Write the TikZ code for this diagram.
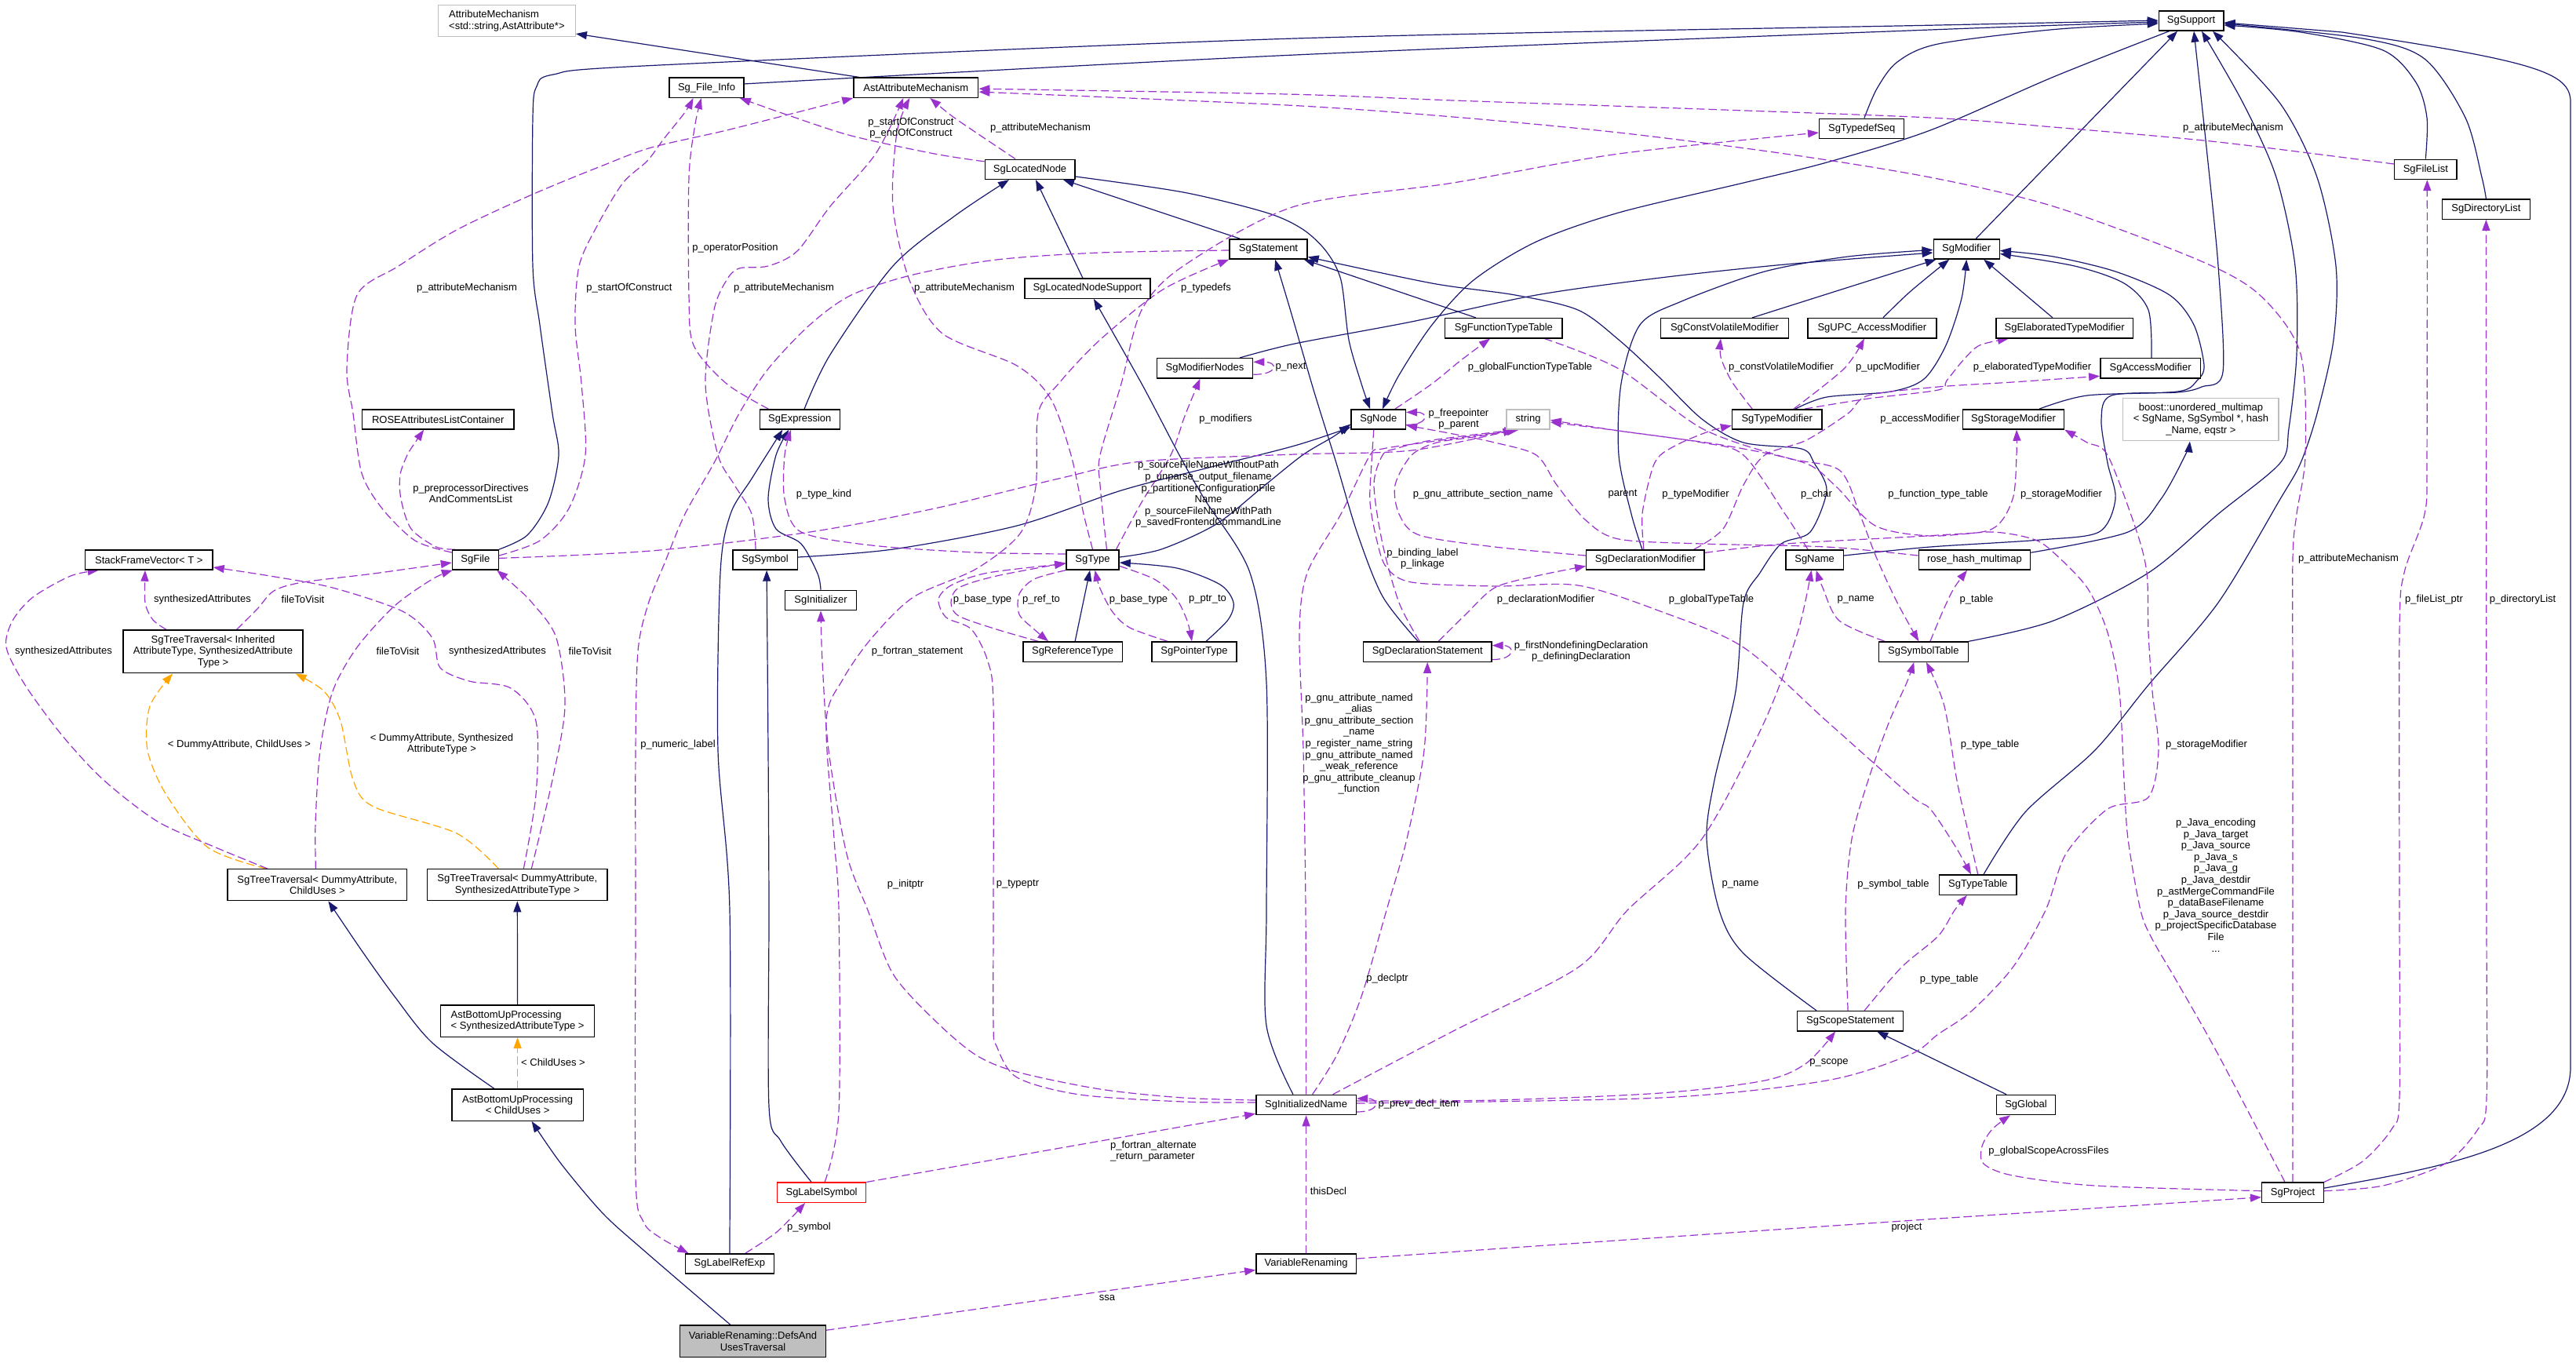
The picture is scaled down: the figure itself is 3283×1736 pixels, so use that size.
\documentclass[tikz,border=0pt]{standalone}
\usepackage{fontspec}
\setmainfont{Liberation Sans}
\usetikzlibrary{arrows.meta,backgrounds}
\definecolor{cnavy}{HTML}{191970}
\definecolor{cpurp}{HTML}{9A32CD}
\definecolor{corng}{HTML}{FFA500}
\definecolor{cgray}{HTML}{BFBFBF}
\newcommand\dxfont{\fontsize{6.5}{7.3}\selectfont}
\begin{document}
\begin{tikzpicture}[x=0.5pt,y=-0.5pt,
 box/.style={draw=black, line width=0.7pt, fill=white, inner sep=0pt, minimum height=12.6pt, font=\dxfont, align=center},
 gbox/.style={box, draw=cgray},
 bw/.style={minimum width=#1*0.5pt},
 bh/.style={minimum height=#1*0.5pt},
 inh/.style={draw=cnavy, line width=0.6pt, -{Triangle[length=7pt,width=5pt]}},
 dep/.style={draw=cpurp, line width=0.6pt, dash pattern=on 5.2pt off 2.4pt, -{Triangle[length=7pt,width=5pt]}},
 tmpl/.style={dep, draw=corng},
 lbl/.style={font=\dxfont, inner sep=0pt, align=center}]

\begin{pgfonlayer}{background}
\fill[white] (0,0) rectangle (3283,1736);
\end{pgfonlayer}
\useasboundingbox (0,0) rectangle (3283,1736);

% ---------------- nodes ----------------
\node[gbox, bw=174.7, bh=40.3, align=left] (attrmech) at (645.9,26.6) {AttributeMechanism\\<std::string,AstAttribute*>};
\node[box, bw=82.5] (support) at (2792.6,26.4) {SgSupport};
\node[box, bw=95.3] (fileinfo) at (900.5,111.7) {Sg\_File\_Info};
\node[box, bw=158.8] (astattr) at (1167.3,111.7) {AstAttributeMechanism};
\node[box, bw=108] (typedefseq) at (2372.7,163.8) {SgTypedefSeq};
\node[box, bw=114.8] (locnode) at (1312.6,215.8) {SgLocatedNode};
\node[box, bw=79.3] (filelist) at (3091.3,215.8) {SgFileList};
\node[box, bw=111.8] (dirlist) at (3168.4,266.6) {SgDirectoryList};
\node[box, bw=99] (stmt) at (1616.5,317.4) {SgStatement};
\node[box, bw=84] (modif) at (2506.2,317.4) {SgModifier};
\node[box, bw=159.8] (locsup) at (1385.9,367.6) {SgLocatedNodeSupport};
\node[box, bw=149.3] (ftt) at (1916.4,418.2) {SgFunctionTypeTable};
\node[box, bw=163.1] (cvm) at (2198,418.2) {SgConstVolatileModifier};
\node[box, bw=164.2] (upc) at (2385.9,418.2) {SgUPC\_AccessModifier};
\node[box, bw=174.3] (etm) at (2631.2,418.2) {SgElaboratedTypeModifier};
\node[box, bw=122.3] (modnodes) at (1535.5,469.3) {SgModifierNodes};
\node[box, bw=127.6] (accm) at (2740.6,469.3) {SgAccessModifier};
\node[box, bw=193.2] (rose) at (558.2,534.4) {ROSEAttributesListContainer};
\node[box, bw=102.2] (expr) at (1019.3,534.4) {SgExpression};
\node[box, bw=69.3] (sgnode) at (1756.8,534.4) {SgNode};
\node[gbox, bw=55.1] (str) at (1947.6,534.4) {string};
\node[box, bw=114.3] (typemod) at (2264.7,534.4) {SgTypeModifier};
\node[box, bw=129.1] (storm) at (2566,534.4) {SgStorageModifier};
\node[gbox, bw=198.4, bh=54.5] (boost) at (2804.9,534.5) {boost::unordered\_multimap\\< SgName, SgSymbol *, hash\\\_Name, eqstr >};
\node[box, bw=162.5] (sfv) at (189.8,713.4) {StackFrameVector< T >};
\node[box, bw=58.8] (sgfile) at (605.9,713.4) {SgFile};
\node[box, bw=82.6] (sgsym) at (975.1,713.4) {SgSymbol};
\node[box, bw=67.2] (sgtype) at (1392.5,713.4) {SgType};
\node[box, bw=150.3] (declmod) at (2096.9,713.4) {SgDeclarationModifier};
\node[box, bw=73.6] (sgname) at (2312.6,713.4) {SgName};
\node[box, bw=142.4] (rhm) at (2516.4,713.4) {rose\_hash\_multimap};
\node[box, bw=91.1] (sginit) at (1046,764.9) {SgInitializer};
\node[box, bw=228.7, bh=54.6] (ttinh) at (271.5,830.4) {SgTreeTraversal< Inherited\\AttributeType, SynthesizedAttribute\\Type >};
\node[box, bw=126.5] (refty) at (1367.1,830.6) {SgReferenceType};
\node[box, bw=108] (ptrty) at (1522,830.6) {SgPointerType};
\node[box, bw=163.6] (declst) at (1819.2,830.6) {SgDeclarationStatement};
\node[box, bw=113.9] (symtab) at (2451.3,830.6) {SgSymbolTable};
\node[box, bw=228.7, bh=39.9] (ttdc) at (404.4,1127.7) {SgTreeTraversal< DummyAttribute,\\ChildUses >};
\node[box, bw=229.3, bh=39.9] (ttdsat) at (659.3,1127.7) {SgTreeTraversal< DummyAttribute,\\SynthesizedAttributeType >};
\node[box, bw=98.7] (typetab) at (2520.8,1127.6) {SgTypeTable};
\node[box, bw=195.9, bh=40.4, align=left] (abupsat) at (659.6,1301.1) {AstBottomUpProcessing\\< SynthesizedAttributeType >};
\node[box, bw=135] (scp) at (2358.1,1301.2) {SgScopeStatement};
\node[box, bw=167.3, bh=40.4] (abupcu) at (659.6,1408) {AstBottomUpProcessing\\< ChildUses >};
\node[box, bw=127.6] (iname) at (1664.6,1408) {SgInitializedName};
\node[box, bw=75.1] (glob) at (2582,1408) {SgGlobal};
\node[box, draw=red, bw=113.2] (labsym) at (1047.1,1519.7) {SgLabelSymbol};
\node[box, bw=78.7] (proj) at (2922,1519.7) {SgProject};
\node[box, bw=112.7] (labref) at (929.9,1610.4) {SgLabelRefExp};
\node[box, bw=127.6] (vr) at (1664.6,1610.4) {VariableRenaming};
\node[box, fill=cgray, bw=185.8, bh=40.4] (mainn) at (959.5,1709.2) {VariableRenaming::DefsAnd\\UsesTraversal};

\begin{pgfonlayer}{background}
% ---------------- inheritance (navy) ----------------
\draw[inh] ([xshift=-36.2pt]astattr.north) -- ([yshift=-8.2pt]attrmech.east);
\draw[inh] plot[smooth] coordinates {([yshift=2.4pt]fileinfo.east) (1650,70) (2470,37.6) ([yshift=-0.8pt]support.west)};
\draw[inh] plot[smooth] coordinates {(sgfile.north east) (672,682) (699,640) (712,580) (704,527) (688,414) (679,339) (679,150) (684,110) (705,95) (830,83.5) (1650,49) (2470,32) ([yshift=0.2pt]support.west)};
\draw[inh] plot[smooth] coordinates {([xshift=1.6pt]typedefseq.north) (2392,113) (2418,79) (2470,56) (2617,37.6) ([yshift=-1.8pt]support.west)};
\draw[inh] plot[smooth] coordinates {([xshift=-14pt]support.south) (2617,98) (2460,166) (2328,207) (2222,233) (2063,271) (1958,308) (1878,357) (1825,414) (1783,478) ([xshift=2.6pt]sgnode.north)};
\draw[inh] plot[smooth] coordinates {([yshift=-4.6pt]locnode.east) (1508,245) (1614,271) (1660,292) (1690,320) (1709,357) (1719,433) (1735,489) ([xshift=-5.4pt]sgnode.north)};
\draw[inh] plot[smooth] coordinates {([yshift=1.7pt]sgsym.east) (1138,700) (1296,670) (1429,625) (1540,596) (1650,568) ([yshift=-5pt]sgnode.west)};
\draw[inh] plot[smooth] coordinates {([yshift=1.7pt]sgtype.east) (1480,700) (1550,668) (1610,620) (1660,580) (1700,556) ([yshift=-3pt]sgnode.west)};
\draw[inh] ([xshift=-18.2pt]stmt.north) -- ([xshift=21.2pt]locnode.south);
\draw[inh] plot[smooth] coordinates {([xshift=2.9pt]expr.north) (1058,452) (1138,339) (1217,275) ([xshift=-13.3pt]locnode.south)};
\draw[inh] ([xshift=-3pt]locsup.north) -- ([xshift=3.7pt]locnode.south);
\draw[inh] plot[smooth] coordinates {([xshift=-6pt]declst.north) (1762,760) (1730,680) (1703,590) (1675,500) (1650,414) (1640,380) ([xshift=4.3pt]stmt.south)};
\draw[inh] ([xshift=-17.7pt]ftt.north) -- ([xshift=-2.5pt]stmt.south east);
\draw[inh] plot[smooth] coordinates {([xshift=-21.5pt]scp.north) (2222,1215) (2191,1160) (2175,1069) (2185,994) (2212,881) (2222,768) (2243,730) (2270,693) (2307,678) (2328,625) (2312,590) (2296,572) (2222,564) (2169,534) (2116,482) (2063,433) (2011,395) (1931,376) (1825,361) ([yshift=-5pt]stmt.east)};
\draw[inh] ([xshift=-12.5pt]glob.north) -- ([xshift=17pt]scp.south);
\draw[inh] ([xshift=6pt]modif.north) -- ([xshift=-8.8pt]support.south);
\draw[inh] plot[smooth] coordinates {([yshift=2.7pt]sgname.east) (2460,697) (2600,688) (2675,678) (2696,636) (2686,590) (2678,535) (2691,504) (2775,500) (2806,493) (2833,474) (2827,339) (2812,188) ([xshift=1.7pt]support.south)};
\draw[inh] plot[smooth] coordinates {([yshift=4.6pt]rhm.east) (2712,678) (2754,636) (2785,580) ([xshift=-7pt]boost.south)};
\draw[inh] plot[smooth] coordinates {(symtab.north east) (2617,791) (2738,730) (2827,655) (2906,590) (2917,546) (2927,451) (2925,339) (2901,226) (2859,132) ([xshift=6.7pt]support.south)};
\draw[inh] plot[smooth] coordinates {([xshift=3.6pt]typetab.north) (2581,1035) (2670,956) (2738,873) (2827,768) (2906,636) (2932,590) (2953,527) (2974,433) (2977,339) (2953,226) (2906,132) ([xshift=13.7pt]support.south)};
\draw[inh] plot[smooth] coordinates {(filelist.north) (3093,150) (3079,105) (3037,64) (2932,41) ([yshift=-2.8pt]support.east)};
\draw[inh] plot[smooth] coordinates {(dirlist.north) (3163,226) (3142,150) (3090,75) (3011,49) ([yshift=-1.8pt]support.east)};
\draw[inh] ([yshift=2.8pt]proj.east) .. controls (3110,1488) and (3276,1460) .. (3276,1360) -- (3276,130) .. controls (3276,92) and (3230,78) .. (2985,41) -- ([yshift=-1.2pt]support.east);
\draw[inh] plot[smooth] coordinates {([xshift=22.2pt]modnodes.north) (1650,438) (1799,410) (1958,376) (2116,354) (2275,337) ([yshift=-2.3pt]modif.west)};
\draw[inh] ([xshift=17.5pt]cvm.north) -- ([xshift=2pt]modif.south west);
\draw[inh] plot[smooth] coordinates {([xshift=7pt]upc.north) (2434,372) ([xshift=-11pt]modif.south)};
\draw[inh] plot[smooth] coordinates {([xshift=11.7pt]typemod.north) (2328,506) (2410,499) (2452,483) (2480,440) (2500,380) (modif.south)};
\draw[inh] ([xshift=-7.6pt]etm.north) -- ([xshift=11pt]modif.south);
\draw[inh] plot[smooth] coordinates {([xshift=0.7pt]accm.north) (2738,395) (2707,361) (2644,339) ([yshift=-3pt]modif.east)};
\draw[inh] plot[smooth] coordinates {([xshift=16.5pt]storm.north) (2660,504) (2775,499) (2800,485) (2809,466) (2796,414) (2765,376) (2696,346) (2617,327) ([yshift=-1pt]modif.east)};
\draw[inh] plot[smooth] coordinates {([xshift=-2pt]declmod.north) (2079,655) (2063,580) (2066,489) (2090,414) (2143,384) (2249,346) (2355,327) ([yshift=-0.5pt]modif.west)};
\draw[inh] ([xshift=1.5pt]refty.north) -- ([xshift=-1.7pt]sgtype.south);
\draw[inh] plot[smooth] coordinates {([xshift=7.5pt]ptrty.north) (1565,790) (1572,768) (1555,745) (1500,724) ([yshift=-1.8pt]sgtype.east)};
\draw[inh] plot[smooth] coordinates {(sginit.north) (1042,731) (1021,693) (989,674) (979,636) (989,580) ([xshift=-7pt]expr.south)};
\draw[inh] plot[smooth] coordinates {(labref.north) (930,1160) (915,956) (918,730) (931,655) (958,610) ([xshift=-11pt]expr.south)};
\draw[inh] plot[smooth] coordinates {([xshift=-6.5pt]labsym.north) (995,1454) (980,1410) (980,1160) (979,956) ([xshift=1pt]sgsym.south)};
\draw[inh] plot[smooth] coordinates {([xshift=-8.3pt]iname.north) (1614,1307) (1614,1160) (1614,870) (1593,730) (1535,636) (1503,580) (1455,489) ([xshift=4pt]locsup.south)};
\draw[inh] plot[smooth] coordinates {([xshift=-15pt]abupcu.north) (551,1329) (503,1270) (460,1210) ([xshift=7pt]ttdc.south)};
\draw[inh] (abupsat.north) -- (ttdsat.south);
\draw[inh] plot[smooth] coordinates {([xshift=-14.3pt]mainn.north) (820,1593) (768,1546) (715,1483) ([xshift=9pt]abupcu.south)};

% ---------------- template (orange) ----------------
\draw[tmpl] plot[smooth] coordinates {([xshift=-32.7pt]ttdc.north) (265,1080) (212,1013) (188,956) (191,900) ([xshift=-25.7pt]ttinh.south)};
\draw[tmpl] plot[smooth] coordinates {([xshift=-12pt]ttdsat.north) (582,1062) (476,1028) (450,994) (434,919) (413,881) ([xshift=-5pt]ttinh.south east)};
\draw[tmpl] (abupcu.north) -- (abupsat.south);

% ---------------- usage (purple) ----------------
\draw[dep] plot[smooth] coordinates {([yshift=4.7pt]sgfile.west) (529,689) (487,648) (461,603) (450,527) (442,470) (455,376) (508,339) (582,293) (678,248) (768,211) (830,188) (926,166) (1032,139) (astattr.south west)};
\draw[dep] plot[smooth] coordinates {([xshift=2pt]sgfile.north west) (556,697) (524,674) (511,636) (510,605) (519,580) (529,564) ([xshift=-9pt]rose.south)};
\draw[dep] plot[smooth] coordinates {([yshift=2.7pt]sgfile.east) (688,689) (725,648) (746,580) (741,489) (733,414) (738,339) (762,286) (794,233) (825,205) (846,177) (873,143) ([xshift=-8.5pt]fileinfo.south)};
\draw[dep] plot[smooth] coordinates {([xshift=-20pt]expr.north) (926,489) (884,440) (878,376) (878,226) (886,158) ([xshift=-3.3pt]fileinfo.south)};
\draw[dep] plot[smooth] coordinates {([yshift=5pt]locnode.west) (1191,196) (1085,173) (1005,147) ([xshift=-3pt]fileinfo.south east)};
\draw[dep] plot[smooth] coordinates {([xshift=-9.3pt]locnode.north) (1244,169) (1212,147) ([xshift=9pt]astattr.south)};
\draw[dep] plot[smooth] coordinates {([xshift=-6pt]sgsym.north) (958,655) (936,618) (915,580) (899,489) (910,395) (926,357) (942,342) (979,339) (1016,320) (1058,263) (1116,196) ([xshift=-8pt]astattr.south)};
\draw[dep] plot[smooth] coordinates {(sgtype.north) (1381,655) (1365,580) (1339,508) (1296,466) (1201,425) (1159,357) (1138,263) (1143,169) ([xshift=-4pt]astattr.south)};
\draw[dep] plot[smooth] coordinates {([yshift=3.4pt]filelist.west) (2827,181) (2617,162) (2460,150) (2169,139) (1852,128) (1640,120) ([yshift=-0.7pt]astattr.east)};
\draw[dep] plot[smooth] coordinates {(proj.north) (2922,1300) (2922,900) (2922,712) (2927,655) (2938,580) (2932,451) (2880,376) (2801,331) (2617,263) (2460,226) (2275,196) (2063,169) (1852,149) (1640,134) ([yshift=-2.7pt]astattr.east)};
\draw[dep] plot[smooth] coordinates {([xshift=9pt]sgtype.north) (1402,618) (1402,580) (1429,489) (1455,395) (1508,339) (1650,263) (1852,233) (2063,196) ([yshift=-2.6pt]typedefseq.west)};
\draw[dep] plot[smooth] coordinates {([xshift=2pt]labsym.north) (1069,1417) (1069,1160) (1063,1069) (1053,919) (1074,866) (1111,813) (1164,761) (1244,725) (1300,680) (1320,620) (1323,527) (1349,489) (1402,433) (1482,369) (stmt.south west)};
\draw[dep] plot[smooth] coordinates {([yshift=-0.8pt]stmt.west) (1402,322) (1270,331) (1164,350) (1085,376) (1032,414) (979,470) (942,527) (910,590) (873,655) (846,720) (826,770) (813,830) (810,956) (810,1170) (810,1500) (820,1557) (841,1577) ([xshift=2.3pt]labref.north west)};
\draw[dep] plot[smooth] coordinates {([yshift=3.7pt]sgtype.west) (1243,704) (1111,695) (1021,678) (1000,636) (1000,580) ([xshift=-5.6pt]expr.south)};
\draw[dep] plot[smooth] coordinates {([yshift=1pt]sgfile.east) (830,702) (1032,678) (1191,648) (1349,610) (1455,588) (1650,579) (1799,574) ([xshift=-9pt]str.south)};
\draw[dep] ([yshift=-4pt]modnodes.east) .. controls +(32,0) and +(32,0) .. ([yshift=4pt]modnodes.east);
\draw[dep] plot[smooth] coordinates {([xshift=15pt]sgtype.north) (1455,640) (1492,580) (1510,530) ([xshift=-3pt]modnodes.south)};
\draw[dep] ([yshift=-3.5pt]sgnode.east) .. controls +(29,0) and +(29,0) .. ([yshift=4.5pt]sgnode.east);
\draw[dep] plot[smooth] coordinates {([xshift=10.6pt]sgnode.north) (1825,489) (1862,459) ([xshift=-8.7pt]ftt.south)};
\draw[dep] plot[smooth] coordinates {([xshift=-3pt]sgnode.south) (1748,590) (1746,640) (1755,690) (1767,723) (1799,742) (1905,747) (2011,746) (2116,779) (2222,825) (2328,919) (2434,1013) (2460,1031) (2491,1077) ([xshift=-4.4pt]typetab.north)};
\draw[dep] plot[smooth] coordinates {([xshift=-5pt]declst.north) (1783,768) (1762,693) (1751,618) (1762,580) (1778,572) (1825,561) ([xshift=-8pt]str.south)};
\draw[dep] plot[smooth] coordinates {([yshift=2.7pt]declmod.west) (1905,697) (1809,682) (1783,655) (1778,618) (1799,580) (1831,564) (1878,557) ([xshift=-7pt]str.south)};
\draw[dep] plot[smooth] coordinates {([xshift=-4.3pt]sgname.north) (2275,655) (2222,580) (2169,564) (2063,549) ([yshift=-1.8pt]str.east)};
\draw[dep] plot[smooth] coordinates {([yshift=2.7pt]rhm.west) (2328,697) (2169,693) (2063,687) (2021,663) (1984,618) (1958,580) (1905,564) (1852,553) ([yshift=-3.8pt]sgnode.east)};
\draw[dep] plot[smooth] coordinates {([xshift=26pt]ftt.south) (2063,470) (2169,546) (2275,583) (2344,599) (2370,655) (2392,712) (2418,768) ([xshift=-3pt]symtab.north)};
\draw[dep] plot[smooth] coordinates {(typetab.north) (2495,1000) (2478,900) ([xshift=1.8pt]symtab.south)};
\draw[dep] plot[smooth] coordinates {([xshift=-1.5pt]scp.north) (2352,1160) (2360,1069) (2381,994) (2408,919) (2430,870) ([xshift=-6pt]symtab.south)};
\draw[dep] plot[smooth] coordinates {([xshift=9pt]scp.north) (2423,1233) (2470,1193) (2491,1160) ([xshift=-7pt]typetab.south)};
\draw[dep] plot[smooth] coordinates {([yshift=2.5pt]iname.east) (1905,1402) (2116,1393) (2249,1377) (2302,1355) ([xshift=-9.5pt]scp.south)};
\draw[dep] plot[smooth] coordinates {([yshift=1pt]iname.east) (2116,1399) (2328,1377) (2434,1344) (2470,1318) (2512,1289) (2565,1233) (2607,1160) (2633,1088) (2686,1031) (2738,1016) (2751,956) (2743,881) (2738,806) (2736,730) (2722,674) (2686,580) (2660,564) (storm.south east)};
\draw[dep] plot[smooth] coordinates {([yshift=4.5pt]declmod.east) (2275,693) (2470,682) (2539,674) (2565,636) (2570,580) ([xshift=2pt]storm.south)};
\draw[dep] plot[smooth] coordinates {([xshift=31pt]declmod.north) (2196,674) (2222,618) (2249,580) (2302,561) (2355,527) (2381,504) (2470,493) (2565,487) ([yshift=-5pt]accm.west)};
\draw[dep] plot[smooth] coordinates {([xshift=17.6pt]typemod.north) (2381,508) (2470,497) (2481,485) (2502,459) (2523,440) ([xshift=-35.6pt]etm.south)};
\draw[dep] plot[smooth] coordinates {([xshift=-15.8pt]typemod.north) (2207,486) (2193,455) ([xshift=-2.5pt]cvm.south)};
\draw[dep] plot[smooth] coordinates {([xshift=10.6pt]typemod.north) (2350,470) ([xshift=-5pt]upc.south)};
\draw[dep] plot[smooth] coordinates {([xshift=-1pt]declmod.north) (2093,655) (2105,600) (2116,580) (2143,564) (2180,549) ([yshift=-4pt]typemod.west)};
\draw[dep] plot[smooth] coordinates {(iname.north) (1664,1160) (1661,956) (1656,806) (1666,730) (1709,655) (1746,580) (1762,572) (1815,564) ([xshift=-6pt]str.south)};
\draw[dep] plot[smooth] coordinates {([xshift=4pt]iname.north) (1704,1344) (1735,1270) (1767,1160) (1793,1069) (1815,956) (declst.south)};
\draw[dep] plot[smooth] coordinates {([xshift=17pt]iname.north) (1852,1314) (2011,1233) (2074,1160) (2169,1069) (2249,919) (2291,806) ([xshift=-2pt]sgname.south)};
\draw[dep] ([yshift=-4.5pt]iname.east) .. controls +(30,0) and +(30,0) .. ([yshift=4pt]iname.east);
\draw[dep] (labsym.north east) -- ([yshift=1pt]iname.south west);
\draw[dep] plot[smooth] coordinates {([xshift=10pt]labref.north) (990,1570) ([xshift=-10.5pt]labsym.south)};
\draw[dep] ([yshift=7pt]mainn.east) -- ([yshift=-4pt]vr.west);
\draw[dep] (vr.north) -- (iname.south);
\draw[dep] plot[smooth] coordinates {([yshift=3.2pt]vr.east) (2000,1585) (2470,1553) ([yshift=-3pt]proj.west)};
\draw[dep] plot[smooth] coordinates {([yshift=1pt]proj.west) (2670,1511) (2565,1498) (2528,1483) (2526,1461) (2539,1439) ([xshift=-10pt]glob.south)};
\draw[dep] plot[smooth] coordinates {(proj.north east) (3011,1480) (3048,1439) (3058,1399) (3058,1160) (3058,806) (3064,730) (3090,655) (3093,580) ([xshift=1pt]filelist.south)};
\draw[dep] plot[smooth] coordinates {([yshift=1pt]proj.east) (3037,1511) (3116,1483) (3158,1439) (3169,1399) (3169,1160) (dirlist.south)};
\draw[dep] plot[smooth] coordinates {([xshift=-5pt]proj.north) (2827,1344) (2775,1252) (2743,1197) (2728,1160) (2712,1069) (2707,994) (2701,881) (2686,806) (2660,749) (2617,704) (2591,687) (2539,678) (2460,683) (2390,670) (2340,620) (2300,590) (2200,568) (2063,549) ([yshift=-0.5pt]str.east)};
\draw[dep] plot[smooth] coordinates {([xshift=-24.6pt]symtab.north) (2344,791) (2323,749) ([xshift=1pt]sgname.south)};
\draw[dep] plot[smooth] coordinates {([xshift=4.3pt]symtab.north) (2476,779) (2490,750) ([xshift=-4.7pt]rhm.south)};
\draw[dep] plot[smooth] coordinates {([xshift=7pt]declst.north) (1868,783) (1905,749) (1958,734) ([yshift=-4pt]declmod.west)};
\draw[dep] ([yshift=-5pt]declst.east) .. controls +(30,0) and +(30,0) .. ([yshift=4pt]declst.east);
\draw[dep] plot[smooth] coordinates {([xshift=-22pt]refty.north) (1270,802) (1222,785) (1212,768) (1222,749) (1270,734) ([yshift=-2pt]sgtype.west)};
\draw[dep] plot[smooth] coordinates {(sgtype.south west) (1318,738) (1299,757) (1299,783) (1318,802) ([xshift=-15.5pt]refty.north)};
\draw[dep] plot[smooth] coordinates {([xshift=-17pt]ptrty.north) (1440,800) (1418,780) (1402,750) ([xshift=1.5pt]sgtype.south)};
\draw[dep] plot[smooth] coordinates {([yshift=-4pt]sgtype.east) (1471,738) (1498,761) (1513,791) ([xshift=-1.5pt]ptrty.north)};
\draw[dep] plot[smooth] coordinates {([yshift=3pt]iname.west) (1508,1399) (1402,1388) (1296,1366) (1243,1344) (1191,1300) (1138,1241) (1106,1160) (1079,1088) (1056,956) (1048,843) (sginit.south)};
\draw[dep] plot[smooth] coordinates {([yshift=1.5pt]iname.west) (1508,1404) (1376,1395) (1296,1373) (1270,1333) (1266,1307) (1266,1160) (1266,900) (1259,843) (1238,802) (1206,787) (1196,764) (1212,746) (1259,730) ([yshift=-2.5pt]sgtype.west)};
% traversal edges
\draw[dep] plot[smooth] coordinates {([xshift=15pt]ttinh.north) (328,776) (349,753) (386,742) (476,731) ([yshift=-1.8pt]sgfile.west)};
\draw[dep] plot[smooth] coordinates {([xshift=-29.7pt]ttinh.north) (195,790) (185,768) ([xshift=-2.4pt]sfv.south)};
\draw[dep] plot[smooth] coordinates {([xshift=-31.7pt]ttdc.north) (275,1080) (201,1047) (132,994) (79,937) (32,873) (8,825) (16,791) (42,761) (90,734) ([xshift=9pt]sfv.south west)};
\draw[dep] plot[smooth] coordinates {([xshift=-1pt]ttdc.north) (402,1050) (408,956) (424,881) (455,825) (503,772) (551,738) ([xshift=0.5pt]sgfile.south west)};
\draw[dep] plot[smooth] coordinates {([xshift=4pt]ttdsat.north) (683,1013) (683,919) (651,877) (598,868) (561,851) (551,813) (513,779) (424,749) (344,734) ([yshift=-4.8pt]sfv.east)};
\draw[dep] plot[smooth] coordinates {([xshift=9pt]ttdsat.north) (704,994) (720,900) (709,813) (678,768) (651,742) ([xshift=-1.4pt]sgfile.south east)};
\end{pgfonlayer}

% ---------------- labels ----------------
\node[lbl] (l1) at (595,367) {p\_attributeMechanism};
\node[lbl] (l2) at (802,367) {p\_startOfConstruct};
\node[lbl] (l3) at (937,316) {p\_operatorPosition};
\node[lbl] (l4) at (999,367) {p\_attributeMechanism};
\node[lbl] (l5) at (1161,163) {p\_startOfConstruct\\p\_endOfConstruct};
\node[lbl] (l6) at (1326,163) {p\_attributeMechanism};
\node[lbl] (l7) at (1229,367) {p\_attributeMechanism};
\node[lbl] (l8) at (1537,367) {p\_typedefs};
\node[lbl] (l9) at (1562,534) {p\_modifiers};
\node[lbl] (l10) at (1645,468) {p\_next};
\node[lbl] (l11) at (1950,468) {p\_globalFunctionTypeTable};
\node[lbl] (l12) at (1859,534) {p\_freepointer\\p\_parent};
\node[lbl] (l13) at (2270,468) {p\_constVolatileModifier};
\node[lbl] (l14) at (2406,468) {p\_upcModifier};
\node[lbl] (l15) at (2590,468) {p\_elaboratedTypeModifier};
\node[lbl] (l16) at (2447,534) {p\_accessModifier};
\node[lbl] (l17) at (2846,163) {p\_attributeMechanism};
\node[lbl] (l18) at (600,629) {p\_preprocessorDirectives\\AndCommentsList};
\node[lbl] (l19) at (1050,630) {p\_type\_kind};
\node[lbl] (l20) at (1540,630) {p\_sourceFileNameWithoutPath\\p\_unparse\_output\_filename\\p\_partitionerConfigurationFile\\Name\\p\_sourceFileNameWithPath\\p\_savedFrontendCommandLine};
\node[lbl] (l21) at (1890,630) {p\_gnu\_attribute\_section\_name};
\node[lbl] (l22) at (2068,630) {parent};
\node[lbl] (l23) at (2161,630) {p\_typeModifier};
\node[lbl] (l24) at (2315,630) {p\_char};
\node[lbl] (l25) at (2470,630) {p\_function\_type\_table};
\node[lbl] (l26) at (2627,630) {p\_storageModifier};
\node[lbl] (l27) at (1813,712) {p\_binding\_label\\p\_linkage};
\node[lbl] (l28) at (2993,712) {p\_attributeMechanism};
\node[lbl] (l29) at (258,764) {synthesizedAttributes};
\node[lbl] (l30) at (386,764) {fileToVisit};
\node[lbl] (l31) at (81,830) {synthesizedAttributes};
\node[lbl] (l32) at (507,830) {fileToVisit};
\node[lbl] (l33) at (634,830) {synthesizedAttributes};
\node[lbl] (l34) at (752,830) {fileToVisit};
\node[lbl] (l35) at (1252,764) {p\_base\_type};
\node[lbl] (l36) at (1327,764) {p\_ref\_to};
\node[lbl] (l37) at (1451,764) {p\_base\_type};
\node[lbl] (l38) at (1539,764) {p\_ptr\_to};
\node[lbl] (l39) at (1970,764) {p\_declarationModifier};
\node[lbl] (l40) at (2181,764) {p\_globalTypeTable};
\node[lbl] (l41) at (2365,764) {p\_name};
\node[lbl] (l42) at (2519,764) {p\_table};
\node[lbl] (l43) at (3102,764) {p\_fileList\_ptr};
\node[lbl] (l44) at (3215,764) {p\_directoryList};
\node[lbl] (l45) at (1169,830) {p\_fortran\_statement};
\node[lbl] (l46) at (2015,830) {p\_firstNondefiningDeclaration\\p\_definingDeclaration};
\node[lbl] (l47) at (864,949) {p\_numeric\_label};
\node[lbl] (l48) at (1732,948) {p\_gnu\_attribute\_named\\\_alias\\p\_gnu\_attribute\_section\\\_name\\p\_register\_name\_string\\p\_gnu\_attribute\_named\\\_weak\_reference\\p\_gnu\_attribute\_cleanup\\\_function};
\node[lbl] (l49) at (2536,949) {p\_type\_table};
\node[lbl] (l50) at (2812,949) {p\_storageModifier};
\node[lbl] (l51) at (305,949) {< DummyAttribute, ChildUses >};
\node[lbl] (l52) at (563,948) {< DummyAttribute, Synthesized\\AttributeType >};
\node[lbl] (l53) at (2824,1128) {p\_Java\_encoding\\p\_Java\_target\\p\_Java\_source\\p\_Java\_s\\p\_Java\_g\\p\_Java\_destdir\\p\_astMergeCommandFile\\p\_dataBaseFilename\\p\_Java\_source\_destdir\\p\_projectSpecificDatabase\\File\\...};
\node[lbl] (l54) at (1154,1127) {p\_initptr};
\node[lbl] (l55) at (1297,1127) {p\_typeptr};
\node[lbl] (l56) at (2218,1127) {p\_name};
\node[lbl] (l57) at (2413,1127) {p\_symbol\_table};
\node[lbl] (l58) at (1768,1247) {p\_declptr};
\node[lbl] (l59) at (2484,1248) {p\_type\_table};
\node[lbl] (l60) at (705,1354) {< ChildUses >};
\node[lbl] (l61) at (2331,1354) {p\_scope};
\node[lbl] (l62) at (1808,1407) {p\_prev\_decl\_item};
\node[lbl, align=left] (l63) at (1470,1467) {p\_fortran\_alternate\\\_return\_parameter};
\node[lbl] (l64) at (2611,1467) {p\_globalScopeAcrossFiles};
\node[lbl] (l65) at (1693,1518) {thisDecl};
\node[lbl] (l66) at (1031,1564) {p\_symbol};
\node[lbl] (l67) at (2430,1564) {project};
\node[lbl] (l68) at (1411,1654) {ssa};
\end{tikzpicture}
\end{document}
